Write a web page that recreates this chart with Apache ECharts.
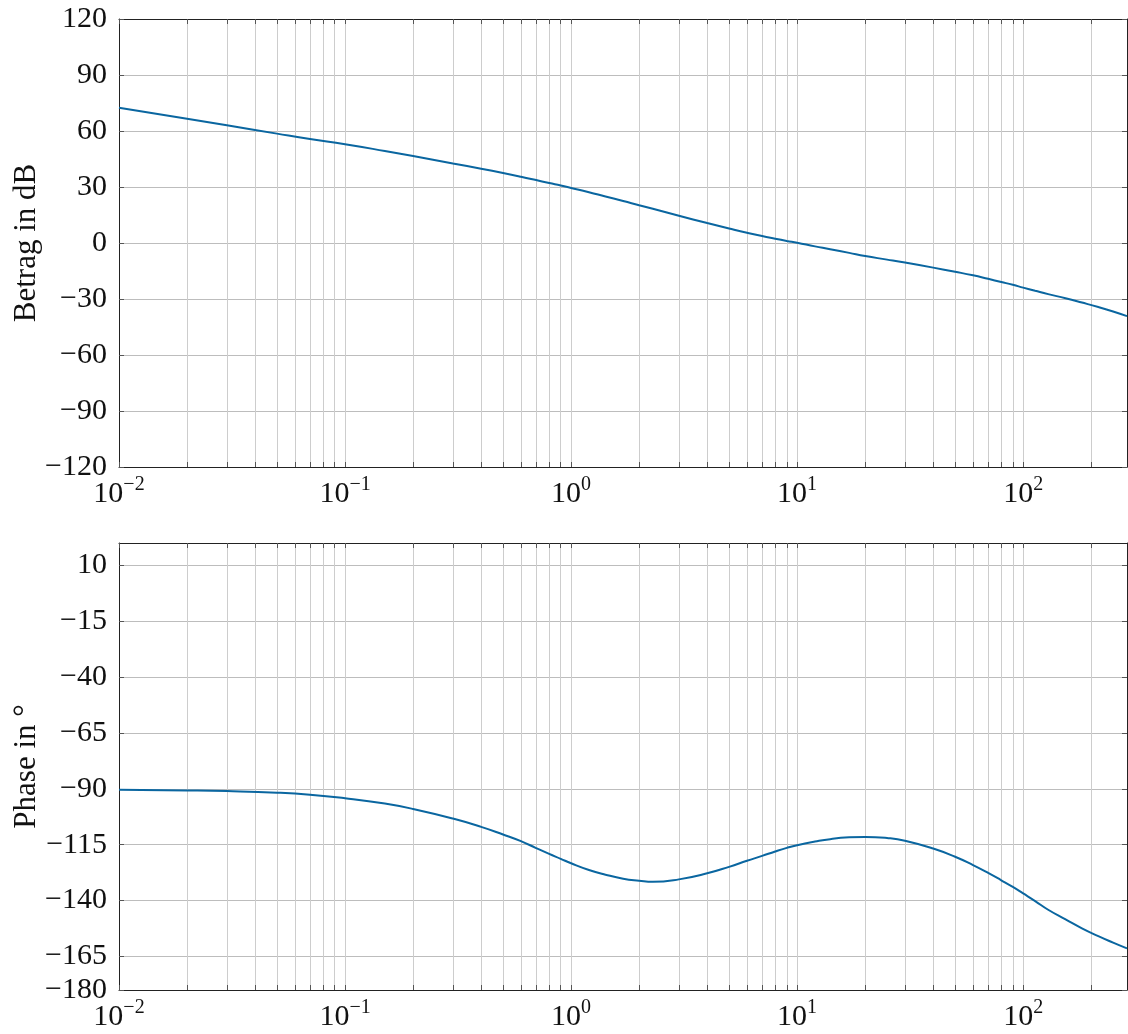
<!DOCTYPE html>
<html>
<head>
<meta charset="utf-8">
<title>Bode</title>
<script src="https://cdn.jsdelivr.net/npm/echarts@6/dist/echarts.min.js"></script>
<style>
  html, body { margin: 0; padding: 0; background: #fff; }
  #chart { width: 1128px; height: 1034px; }
</style>
</head>
<body>
<div id="chart"></div>
<script>
// Frequenzen (rad/s)
var freqs = [0.01, 0.02, 0.03, 0.05, 0.07, 0.1, 0.15, 0.2, 0.3, 0.4, 0.5, 0.6, 0.7, 0.8, 0.9,
  1, 1.2, 1.42, 1.7, 2, 2.3, 3, 4, 5, 6, 7, 8, 9,
  10, 12, 14, 17, 20, 25, 30, 40, 50, 60, 70, 80, 90,
  100, 113, 129, 154, 182, 215, 250, 288]
var magDb = [72.5, 66.6, 63.1, 58.6, 55.7, 52.9, 49.3, 46.6, 42.6, 39.8, 37.5, 35.5, 33.7, 32.1, 30.8,
  29.5, 27.2, 24.9, 22.5, 20.2, 18.3, 14.6, 10.7, 7.8, 5.5, 3.7, 2.3, 1.1,
  0.1, -1.8, -3.3, -5.3, -7.0, -8.9, -10.5, -13.2, -15.4, -17.3, -19.2, -20.9, -22.4,
  -23.9, -25.6, -27.4, -29.6, -31.9, -34.3, -36.7, -39.2]
var phaseDeg = [-90.4, -90.7, -91.0, -91.7, -92.6, -94.2, -96.6, -99.0, -103.3, -107.0, -110.4, -113.4, -116.5, -119.1, -121.3,
  -123.3, -126.3, -128.4, -130.2, -131.1, -131.6, -130.5, -127.8, -124.9, -122.2, -120.0, -118.0, -116.4,
  -115.2, -113.6, -112.5, -111.7, -111.5, -112.0, -113.2, -116.7, -120.4, -124.1, -127.6, -130.9, -133.9,
  -136.8, -140.2, -144.1, -148.4, -152.4, -155.9, -158.8, -161.4]

// Achsen
var xDecades = [0.01, 0.1, 1, 10, 100]
var xTicks = []
xDecades.forEach(function (d) {
  for (var k = 1; k <= 9; k++) {
    var v = +(d * k).toPrecision(3)
    if (v <= 288) xTicks.push(v)
  }
})
var magTicks = [-120, -90, -60, -30, 0, 30, 60, 90, 120]
var phaseTicks = [-180, -165, -140, -115, -90, -65, -40, -15, 10]

var FONT = '"Liberation Serif", "DejaVu Serif", serif'
var LINE_COLOR = '#0a66a0'

function minus(v) {
  return String(v).replace('-', '\u2212')
}

function xLabel(v) {
  var e = Math.round(Math.log10(v))
  return '{b|10}{s|' + minus(e) + '}'
}

function bottomX(gridIndex) {
  return {
    type: 'log',
    logBase: 10,
    gridIndex: gridIndex,
    min: 0.01,
    max: 288,
    position: 'bottom',
    axisLine: { show: true, onZero: false, lineStyle: { color: '#222', width: 1 } },
    axisTick: { show: true, inside: true, length: 5, customValues: xTicks, lineStyle: { color: '#555' } },
    axisLabel: {
      customValues: xDecades,
      margin: 8,
      formatter: xLabel,
      rich: {
        b: { fontFamily: FONT, fontSize: 30, color: '#111', verticalAlign: 'bottom', lineHeight: 34 },
        s: { fontFamily: FONT, fontSize: 20, color: '#111', verticalAlign: 'top', lineHeight: 34 },
      },
    },
    splitLine: { show: true, lineStyle: { color: '#cdcdcd', width: 1 } },
  }
}

function topX(gridIndex) {
  return {
    type: 'log',
    logBase: 10,
    gridIndex: gridIndex,
    min: 0.01,
    max: 288,
    position: 'top',
    axisLine: { show: true, onZero: false, lineStyle: { color: '#222', width: 1 } },
    axisTick: { show: true, inside: true, length: 5, customValues: xTicks, lineStyle: { color: '#555' } },
    axisLabel: { show: false },
    splitLine: { show: false },
  }
}

function leftY(gridIndex, min, max, ticks, name) {
  return {
    type: 'value',
    gridIndex: gridIndex,
    min: min,
    max: max,
    position: 'left',
    name: name,
    nameLocation: 'middle',
    nameGap: 77,
    nameMoveOverlap: false,
    nameTextStyle: { fontFamily: FONT, fontSize: 31, color: '#111' },
    axisLine: { show: true, onZero: false, lineStyle: { color: '#222', width: 1 } },
    axisTick: { show: true, inside: true, length: 5, customValues: ticks, lineStyle: { color: '#555' } },
    axisLabel: {
      customValues: ticks,
      margin: 12,
      fontFamily: FONT,
      fontSize: 30,
      color: '#111',
      formatter: minus,
    },
    splitLine: { show: true, lineStyle: { color: '#bdbdbd', width: 1 } },
  }
}

function rightY(gridIndex, min, max, ticks) {
  return {
    type: 'value',
    gridIndex: gridIndex,
    min: min,
    max: max,
    position: 'right',
    axisLine: { show: true, onZero: false, lineStyle: { color: '#222', width: 1 } },
    axisTick: { show: true, inside: true, length: 5, customValues: ticks, lineStyle: { color: '#555' } },
    axisLabel: { show: false },
    splitLine: { show: false },
  }
}

function pairs(ys) {
  return freqs.map(function (f, i) { return [f, ys[i]] })
}

var myChart = echarts.init(document.getElementById('chart'), null, { renderer: 'canvas' })

var option = {
  animation: false,
  backgroundColor: '#fff',
  grid: [
    { left: 119, top: 19, width: 1008, height: 448, outerBoundsMode: 'none', containLabel: false },
    { left: 119, top: 543, width: 1008, height: 447, outerBoundsMode: 'none', containLabel: false },
  ],
  xAxis: [bottomX(0), bottomX(1), topX(0), topX(1)],
  yAxis: [
    leftY(0, -120, 120, magTicks, 'Betrag in dB'),
    leftY(1, -180, 20, phaseTicks, 'Phase in \u00b0'),
    rightY(0, -120, 120, magTicks),
    rightY(1, -180, 20, phaseTicks),
  ],
  series: [
    {
      name: 'Betrag',
      type: 'line',
      xAxisIndex: 0,
      yAxisIndex: 0,
      showSymbol: false,
      smooth: 0.5,
      lineStyle: { color: LINE_COLOR, width: 2 },
      data: pairs(magDb),
    },
    {
      name: 'Phase',
      type: 'line',
      xAxisIndex: 1,
      yAxisIndex: 1,
      showSymbol: false,
      smooth: 0.5,
      lineStyle: { color: LINE_COLOR, width: 2 },
      data: pairs(phaseDeg),
    },
  ],
}

myChart.setOption(option)
</script>
</body>
</html>
